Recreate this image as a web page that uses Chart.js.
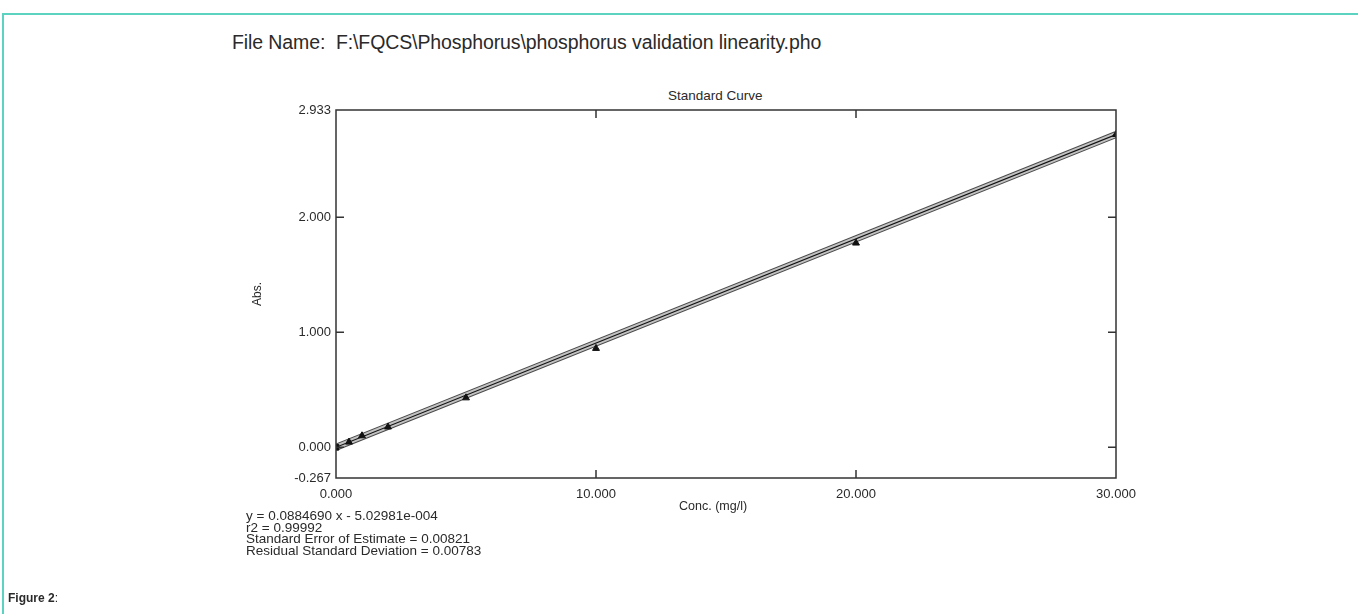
<!DOCTYPE html>
<html lang="en">
<head>
  <meta charset="UTF-8">
  <title>Standard Curve</title>
  <script src="https://cdn.jsdelivr.net/npm/chart.js"></script>
  <style>
    html, body {
      margin: 0;
      padding: 0;
      width: 1358px;
      height: 614px;
      overflow: hidden;
      background: #fff;
      font-family: 'Liberation Sans', Arial, sans-serif;
      color: #2a2a2a;
    }
    .frame {
      position: absolute;
      left: 2px;
      top: 13px;
      width: 1356px;
      height: 601px;
      border-top: 2px solid #5bd3c0;
      border-left: 2px solid #5bd3c0;
    }
    .chart-box {
      position: absolute;
      left: 0;
      top: 0;
      width: 1358px;
      height: 614px;
    }
    .file-name {
      position: absolute;
      left: 232px;
      top: 31px;
      font-size: 19.5px;
      letter-spacing: -0.1px;
    }
    .plot-title {
      position: absolute;
      left: 668px;
      top: 88px;
      font-size: 13.5px;
    }
    .plot-x-title {
      position: absolute;
      left: 679px;
      top: 499px;
      font-size: 12.5px;
    }
    .stats {
      position: absolute;
      left: 246px;
      top: 510px;
      font-size: 13.5px;
      line-height: 11.7px;
    }
    .fig {
      position: absolute;
      left: 8px;
      top: 591px;
      font-size: 12px;
    }
  </style>
</head>
<body>
<div class="frame"></div>
<div class="file-name">File Name:&nbsp; F:\FQCS\Phosphorus\phosphorus validation linearity.pho</div>
<div class="plot-title">Standard Curve</div>
<div class="chart-box"><canvas id="curve"></canvas></div>
<div class="plot-x-title">Conc. (mg/l)</div>
<div class="stats">
  y = 0.0884690 x - 5.02981e-004<br>
  r2 = 0.99992<br>
  Standard Error of Estimate = 0.00821<br>
  Residual Standard Deviation = 0.00783
</div>
<div class="fig"><b>Figure 2</b>:</div>

<script>
// standards
const conc = [0, 0.5, 1, 2, 5, 10, 20, 30];
const absorb = [0.0, 0.045, 0.10, 0.177, 0.43, 0.86, 1.776, 2.72];
const markers = ['rect', 'triangle', 'triangle', 'triangle', 'triangle', 'triangle', 'triangle', 'triangle'];

// fitted line ends
const fitX = [0, 30];
const fitY = [0.0, 2.72];

const xTicks = [0, 10, 20, 30];
const yTicks = [-0.267, 0, 1, 2, 2.933];
const innerX = [10, 20];
const innerY = [0, 1, 2];

const pts = conc.map((c, i) => ({ x: c, y: absorb[i] }));
const fit = fitX.map((c, i) => ({ x: c, y: fitY[i] }));

// box round the plot + ticks pointing inward
const frameBox = {
  id: 'frameBox',
  afterDraw(chart) {
    const { ctx, chartArea: a, scales } = chart;
    ctx.save();
    ctx.strokeStyle = '#333';
    ctx.lineWidth = 1.5;
    ctx.strokeRect(a.left, a.top, a.right - a.left, a.bottom - a.top);
    ctx.beginPath();
    innerX.forEach(v => {
      const px = scales.x.getPixelForValue(v);
      ctx.moveTo(px, a.bottom); ctx.lineTo(px, a.bottom - 8);
      ctx.moveTo(px, a.top); ctx.lineTo(px, a.top + 8);
    });
    innerY.forEach(v => {
      const py = scales.y.getPixelForValue(v);
      ctx.moveTo(a.left, py); ctx.lineTo(a.left + 8, py);
      ctx.moveTo(a.right, py); ctx.lineTo(a.right - 8, py);
    });
    ctx.stroke();
    ctx.restore();
  }
};

new Chart(document.getElementById('curve'), {
  type: 'scatter',
  data: {
    datasets: [
      {
        data: pts,
        pointStyle: markers,
        pointRadius: 4,
        backgroundColor: '#111',
        borderColor: '#111',
        order: 0
      },
      {
        data: fit, showLine: true, pointRadius: 0,
        borderColor: '#111', borderWidth: 1.2, order: 1
      },
      {
        data: fit, showLine: true, pointRadius: 0,
        borderColor: '#c2c2c2', borderWidth: 5, order: 2
      },
      {
        data: fit, showLine: true, pointRadius: 0,
        borderColor: '#4a4a4a', borderWidth: 7, order: 3
      }
    ]
  },
  options: {
    responsive: true,
    maintainAspectRatio: false,
    animation: false,
    layout: { padding: { top: 110, right: 242, left: 250, bottom: 100 } },
    plugins: { legend: { display: false }, tooltip: { enabled: false } },
    scales: {
      x: {
        type: 'linear',
        min: 0, max: 30,
        afterFit: s => { s.height = 36; },
        afterBuildTicks: s => { s.ticks = xTicks.map(v => ({ value: v })); },
        grid: { display: false, drawTicks: false },
        border: { display: false },
        ticks: {
          padding: 9,
          color: '#2a2a2a',
          font: { family: 'Liberation Sans', size: 13 },
          maxRotation: 0,
          callback: v => v.toFixed(3)
        }
      },
      y: {
        min: -0.267, max: 2.933,
        afterFit: s => { s.width = 86; },
        afterBuildTicks: s => { s.ticks = yTicks.map(v => ({ value: v })); },
        grid: { display: false, drawTicks: false },
        border: { display: false },
        ticks: {
          padding: 5,
          color: '#2a2a2a',
          font: { family: 'Liberation Sans', size: 13 },
          callback: v => v.toFixed(3)
        },
        title: {
          display: true,
          text: 'Abs.',
          color: '#2a2a2a',
          font: { family: 'Liberation Sans', size: 12 },
          padding: 0
        }
      }
    }
  },
  plugins: [frameBox]
});
</script>
</body>
</html>
